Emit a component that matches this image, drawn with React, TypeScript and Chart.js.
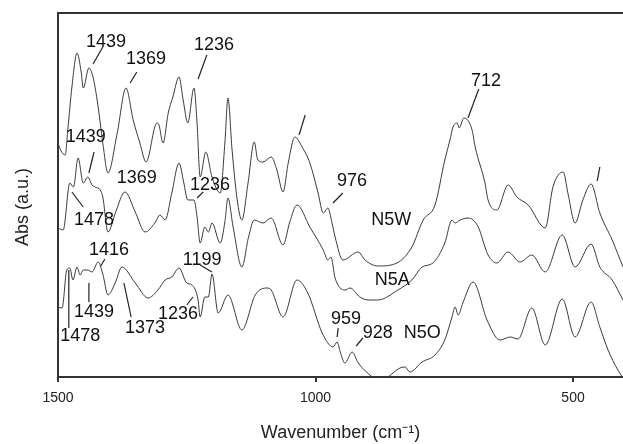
import React, { useEffect, useRef } from 'react';
import { Chart, registerables } from 'chart.js';

Chart.register(...registerables);

// Wavenumbers (cm-1) and absorbance (arbitrary units)
const wnN5W = [1500, 1494, 1486, 1481, 1473, 1463, 1455, 1451, 1440, 1432, 1424, 1418, 1413, 1403, 1385, 1368, 1354, 1341, 1329, 1308, 1304, 1296, 1286, 1277, 1265, 1257, 1248, 1236, 1230, 1224, 1213, 1201, 1185, 1176, 1170, 1162, 1152, 1143, 1131, 1119, 1112, 1102, 1086, 1075, 1063, 1053, 1040, 1026, 1011, 995, 985, 976, 968, 962, 947, 917, 904, 879, 842, 813, 791, 768, 749, 739, 733, 725, 721, 712, 696, 690, 671, 665, 648, 626, 609, 587, 554, 539, 519, 510, 496, 481, 465, 448, 424, 403];
const absN5W = [234, 226, 222, 247, 290, 324, 305, 289, 309, 300, 277, 254, 234, 204, 244, 289, 257, 234, 215, 254, 252, 234, 264, 280, 300, 277, 254, 289, 254, 200, 225, 200, 184, 234, 279, 227, 177, 157, 194, 235, 217, 215, 220, 207, 185, 214, 240, 230, 214, 184, 164, 169, 154, 140, 117, 125, 117, 111, 114, 130, 157, 172, 217, 237, 250, 254, 249, 259, 247, 230, 194, 177, 167, 192, 180, 172, 149, 190, 205, 184, 154, 177, 193, 164, 137, 110];

const wnN5A = [1500, 1490, 1477, 1470, 1461, 1451, 1442, 1434, 1428, 1418, 1413, 1403, 1388, 1370, 1350, 1331, 1312, 1302, 1292, 1279, 1265, 1256, 1248, 1236, 1230, 1224, 1215, 1208, 1201, 1185, 1176, 1170, 1160, 1143, 1130, 1119, 1102, 1086, 1063, 1050, 1036, 1011, 985, 976, 970, 962, 943, 933, 914, 898, 879, 840, 813, 793, 772, 749, 735, 729, 719, 704, 684, 671, 665, 648, 626, 603, 580, 554, 521, 496, 465, 448, 424, 403];
const absN5A = [149, 147, 194, 190, 219, 194, 200, 192, 190, 187, 180, 145, 165, 185, 165, 145, 154, 162, 157, 184, 214, 195, 177, 177, 160, 134, 150, 145, 154, 134, 155, 179, 150, 110, 140, 157, 154, 159, 132, 155, 172, 150, 127, 117, 120, 99, 87, 89, 80, 77, 77, 87, 97, 110, 114, 134, 157, 154, 157, 159, 150, 130, 122, 114, 125, 115, 122, 105, 142, 110, 133, 110, 97, 77];

const wnN5O = [1500, 1492, 1483, 1477, 1471, 1463, 1457, 1451, 1442, 1434, 1422, 1413, 1403, 1389, 1376, 1350, 1325, 1306, 1292, 1279, 1265, 1250, 1240, 1228, 1224, 1215, 1208, 1201, 1189, 1170, 1143, 1117, 1094, 1086, 1063, 1036, 1015, 987, 966, 958, 952, 943, 929, 917, 890, 875, 859, 836, 826, 817, 793, 768, 749, 735, 729, 723, 714, 694, 667, 642, 622, 607, 580, 554, 521, 496, 465, 448, 432, 413, 403];
const absN5O = [70, 69, 107, 109, 97, 110, 102, 107, 107, 105, 115, 103, 82, 94, 110, 94, 79, 87, 97, 100, 109, 94, 92, 77, 60, 80, 80, 103, 64, 82, 47, 82, 89, 87, 60, 97, 84, 44, 30, 35, 25, 14, 25, 14, 0, -6, 0, 9, 10, 5, 15, 22, 37, 60, 70, 62, 74, 95, 57, 37, 40, 38, 69, 32, 78, 40, 75, 50, 27, 7, -1];

const seriesNames = ['N5W', 'N5A', 'N5O'];
const xTickValues = [1500, 1000, 500];
const xTitle = 'Wavenumber (cm\u207B\u00B9)';
const yTitle = 'Abs (a.u.)';

// Peak annotations: text, text centre (wavenumber, abs), optional leader line
const peakLabels: { text: string; x: number; y: number; line?: number[] }[] = [
  { text: '1439', x: 1407, y: 335, line: [1413, 330, 1432, 313] },
  { text: '1369', x: 1329, y: 318, line: [1347, 305, 1360, 294] },
  { text: '1236', x: 1197, y: 332, line: [1211, 322, 1228, 298] },
  { text: '', x: 0, y: 0, line: [1020, 262, 1032, 242] },
  { text: '976', x: 929, y: 196, line: [947, 184, 966, 174] },
  { text: '712', x: 669, y: 296, line: [683, 288, 704, 259] },
  { text: '', x: 0, y: 0, line: [448, 210, 453, 196] },
  { text: 'N5W', x: 853, y: 157 },
  { text: '1439', x: 1446, y: 240, line: [1430, 225, 1440, 204] },
  { text: '1478', x: 1430, y: 157, line: [1473, 185, 1451, 170] },
  { text: '1369', x: 1347, y: 199 },
  { text: '1236', x: 1205, y: 192, line: [1218, 185, 1230, 179] },
  { text: 'N5A', x: 851, y: 97 },
  { text: '1416', x: 1401, y: 127, line: [1409, 118, 1417, 111] },
  { text: '1199', x: 1220, y: 117, line: [1224, 112, 1201, 105] },
  { text: '1439', x: 1430, y: 65, line: [1440, 94, 1440, 75] },
  { text: '1478', x: 1457, y: 41, line: [1479, 107, 1479, 49] },
  { text: '1373', x: 1331, y: 49, line: [1372, 94, 1358, 60] },
  { text: '1236', x: 1267, y: 63, line: [1238, 80, 1250, 72] },
  { text: '959', x: 941, y: 58, line: [956, 49, 958, 40] },
  { text: '928', x: 879, y: 44, line: [908, 39, 921, 31] },
  { text: 'N5O', x: 793, y: 44 },
];

const FONT = '"Liberation Sans", Arial, Helvetica, sans-serif';
const INK = '#333333';

const toPoints = (xs: number[], ys: number[]) => xs.map((x, i) => ({ x, y: ys[i] }));

const annotationPlugin = {
  id: 'annotations',
  afterDraw(chart: any) {
    const { ctx, chartArea, scales } = chart;
    const xs = scales.x;
    const ys = scales.y;
    ctx.save();
    // top frame line
    ctx.strokeStyle = INK;
    ctx.lineWidth = 2;
    ctx.beginPath();
    ctx.moveTo(chartArea.left - 1, chartArea.top);
    ctx.lineTo(chartArea.right, chartArea.top);
    ctx.stroke();
    // y axis title
    ctx.save();
    ctx.translate(23, ys.getPixelForValue(170));
    ctx.rotate(-Math.PI / 2);
    ctx.fillStyle = '#222';
    ctx.font = '18px ' + FONT;
    ctx.textAlign = 'center';
    ctx.textBaseline = 'middle';
    ctx.fillText(yTitle, 0, 0);
    ctx.restore();
    // labels
    ctx.fillStyle = '#111';
    ctx.font = '18px ' + FONT;
    ctx.textAlign = 'center';
    ctx.textBaseline = 'middle';
    ctx.lineWidth = 1.2;
    ctx.strokeStyle = '#222';
    for (const l of peakLabels) {
      if (l.line) {
        ctx.beginPath();
        ctx.moveTo(xs.getPixelForValue(l.line[0]), ys.getPixelForValue(l.line[1]));
        ctx.lineTo(xs.getPixelForValue(l.line[2]), ys.getPixelForValue(l.line[3]));
        ctx.stroke();
      }
      if (l.text) {
        ctx.fillText(l.text, xs.getPixelForValue(l.x), ys.getPixelForValue(l.y));
      }
    }
    ctx.restore();
  },
};

export default function App() {
  const ref = useRef<HTMLCanvasElement | null>(null);
  useEffect(() => {
    document.body.style.margin = '0';
    const canvas = ref.current;
    if (!canvas) return;
    const series = [
      toPoints(wnN5W, absN5W),
      toPoints(wnN5A, absN5A),
      toPoints(wnN5O, absN5O),
    ];
    const chart = new Chart(canvas, {
      type: 'line',
      data: {
        datasets: series.map((d, i) => ({
          label: seriesNames[i],
          data: d,
          borderColor: '#3a3a3a',
          borderWidth: 1,
          pointRadius: 0,
          fill: false,
          cubicInterpolationMode: 'monotone' as const,
        })),
      },
      options: {
        animation: false,
        responsive: false,
        devicePixelRatio: 1,
        layout: { padding: { top: 13, left: 0, right: 0, bottom: 0 } },
        plugins: { legend: { display: false }, tooltip: { enabled: false } },
        scales: {
          x: {
            type: 'linear',
            reverse: true,
            min: 403,
            max: 1500,
            afterBuildTicks: (s: any) => {
              s.ticks = xTickValues.map((v) => ({ value: v }));
            },
            afterFit: (s: any) => {
              s.height = 67;
            },
            ticks: {
              color: '#222',
              font: { family: FONT, size: 14 },
              padding: 8,
              maxRotation: 0,
              autoSkip: false,
              callback: (v: any) => String(v),
            },
            grid: {
              display: true,
              drawOnChartArea: false,
              drawTicks: true,
              tickLength: 5,
              color: INK,
              lineWidth: 2,
            },
            border: { display: true, color: INK, width: 2 },
            title: {
              display: true,
              text: xTitle,
              color: '#222',
              font: { family: FONT, size: 18 },
              padding: { top: 0, bottom: 0 },
            },
          },
          y: {
            type: 'linear',
            min: 0,
            max: 364,
            afterFit: (s: any) => {
              s.width = 58;
            },
            ticks: { display: false },
            grid: { display: false, drawTicks: false },
            border: { display: true, color: INK, width: 2 },
            title: { display: false },
          },
        },
      },
      plugins: [annotationPlugin],
    });
    return () => chart.destroy();
  }, []);
  return (
    <div style={{ width: 623, height: 444, background: '#fff' }}>
      <canvas ref={ref} width={623} height={444} style={{ display: 'block' }} />
    </div>
  );
}
